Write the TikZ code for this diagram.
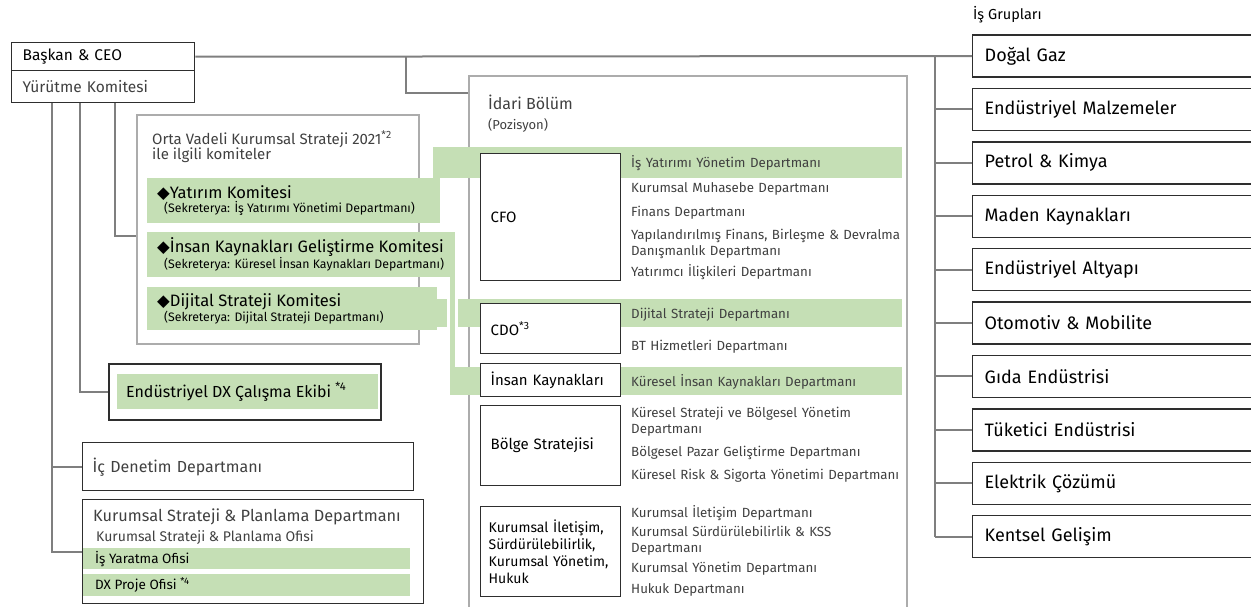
\documentclass[tikz,border=0pt]{standalone}
\usepackage{fontspec}
\setmainfont{Fira Sans}
\newfontfamily\symfont{DejaVu Sans}
\usepackage{xcolor}
\usepackage{tikz}
\usetikzlibrary{positioning,calc}
\definecolor{vert}{HTML}{C5DFB5}
\definecolor{trait}{HTML}{7F7F7F}
\definecolor{cadre}{HTML}{2E2E2E}
\definecolor{texte}{HTML}{404040}
\newcommand{\taille}[2]{\fontsize{#1}{#2}\selectfont}
\newcommand{\losange}{{\symfont ◆}}
\tikzset{
	link/.style={draw=trait,line width=2pt},
	boite/.style={draw=cadre,line width=1.4pt,anchor=north west,align=left,inner xsep=8pt,inner ysep=0pt},
	gris/.style={draw=gray!65,line width=1.6pt,anchor=north west,inner sep=0pt},
	bande/.style={fill=vert,anchor=north west,inner sep=0pt},
	txt/.style={inner sep=0pt,align=left},
	dep/.style={anchor=west,inner sep=0pt,text=texte,align=left,text width=275pt,font=\taille{13.3}{16}},
	poste/.style={boite,fill=white,minimum width=140pt,text width=120pt,inner xsep=10pt,font=\taille{15}{17}},
	grp/.style={boite,anchor=west,minimum width=310pt,minimum height=42pt,text width=286pt,inner xsep=12pt,font=\taille{18}{20}}
}

\begin{document}
\begin{tikzpicture}[x=1pt,y=-1pt]
	\useasboundingbox (0,0) rectangle (1251,606);
	\clip (0,0) rectangle (1251,606);
	
	%Cadres gris
	\node[gris,minimum width=438pt,minimum height=560pt] (admin) at (468,75) {};
	\node[gris,minimum width=282pt,minimum height=229pt] (comite) at (136,114) {};
	\node[txt,anchor=west,text=texte,font=\taille{16}{18}] (idari) at (488,102) {İdari Bölüm};
	\node[txt,anchor=west,text=texte,font=\taille{13}{15}] (poz) at (488,125) {(Pozisyon)};
	\node[txt,anchor=north west,text=texte,font=\taille{15}{15.5}] (comtitre) at (152,131) {Orta Vadeli Kurumsal Strateji 2021\textsuperscript{*2}\\ile ilgili komiteler};
	
	%Bandes vertes
	\node[bande,minimum width=469pt,minimum height=31pt] (bisy) at (433,147) {};
	\node[bande,minimum width=465pt,minimum height=28pt] (bdij) at (437,299) {};
	\node[bande,minimum width=452pt,minimum height=28pt] (bik) at (450,367) {};
	
	%Comites
	\node[bande,minimum width=293pt,minimum height=45pt] (yat) at (147,178) {};
	\node[bande,minimum width=308pt,minimum height=45pt] (ikk) at (147,232) {};
	\node[bande,minimum width=290pt,minimum height=43pt] (dij) at (147,287) {};
	\node[txt,right=10pt of yat.west,font=\taille{16.5}{14.5}] (yattxt) {\losange Yatırım Komitesi\\\hspace*{7pt}{\taille{12.3}{13}(Sekreterya: İş Yatırımı Yönetimi Departmanı)}};
	\node[txt,right=10pt of ikk.west,font=\taille{16.5}{14.5}] (ikktxt) {\losange İnsan Kaynakları Geliştirme Komitesi\\\hspace*{7pt}{\taille{12.3}{13}(Sekreterya: Küresel İnsan Kaynakları Departmanı)}};
	\node[txt,right=10pt of dij.west,font=\taille{16.5}{14.5}] (dijtxt) {\losange Dijital Strateji Komitesi\\\hspace*{7pt}{\taille{12.3}{13}(Sekreterya: Dijital Strateji Departmanı)}};
	
	\fill[white] (447,299) rectangle (458,327);
	\fill[vert] (ikk.south east) rectangle (bik.north west);
	
	%Postes
	\node[poste,minimum height=127pt] (cfo) at (480,153) {CFO};
	\node[poste,minimum height=50pt] (cdo) at (480,303) {CDO\textsuperscript{*3}};
	\node[poste,minimum height=33pt] (ik) at (480,363) {İnsan Kaynakları};
	\node[poste,minimum height=80pt] (bolge) at (480,405) {Bölge Stratejisi};
	\node[poste,minimum height=90pt,text width=124pt,inner xsep=8pt,font=\taille{14}{17}] (kur) at (480,506) {Kurumsal İletişim,\\Sürdürülebilirlik,\\Kurumsal Yönetim,\\Hukuk};
	
	%Departmanlar
	\foreach \y/\t [count=\i] in {163/İş Yatırımı Yönetim Departmanı,189/Kurumsal Muhasebe Departmanı,213/Finans Departmanı,244/{Yapılandırılmış Finans, Birleşme \& Devralma\\Danışmanlık Departmanı},272/Yatırımcı İlişkileri Departmanı,315/Dijital Strateji Departmanı,347/BT Hizmetleri Departmanı,382/Küresel İnsan Kaynakları Departmanı,422/{Küresel Strateji ve Bölgesel Yönetim\\Departmanı},453/Bölgesel Pazar Geliştirme Departmanı,476/Küresel Risk \& Sigorta Yönetimi Departmanı,513/Kurumsal İletişim Departmanı,541/{Kurumsal Sürdürülebilirlik \& KSS\\Departmanı},569/Kurumsal Yönetim Departmanı,590/Hukuk Departmanı}
		\node[dep] (dep\i) at (631,\y) {\t};
	
	%Baskan et comite executif
	\node[boite,minimum width=183pt,minimum height=28pt,text width=161pt,inner xsep=11pt,font=\taille{15.5}{17}] (ceo) at (11,42) {Başkan \& CEO};
	\node[boite,minimum width=183pt,minimum height=32pt,text width=161pt,inner xsep=11pt,text=texte,font=\taille{15.5}{17}] (yk) at (11,70) {Yürütme Komitesi};
	
	%Boites de gauche
	\node[boite,line width=2pt,minimum width=272pt,minimum height=56pt] (dxbox) at (108,363) {};
	\node[bande,minimum width=261pt,minimum height=35pt] (dx) at (117,374) {};
	\node[txt,right=9pt of dx.west,font=\taille{16}{18}] (dxtxt) {Endüstriyel DX Çalışma Ekibi \textsuperscript{*4}};
	\node[boite,minimum width=331pt,minimum height=48pt,text width=311pt,inner xsep=10pt,text=texte,font=\taille{16}{18}] (audit) at (82,442) {İç Denetim Departmanı};
	\node[boite,minimum width=341pt,minimum height=104pt] (ksp) at (82,499) {};
	\node[txt,anchor=west,text=texte,font=\taille{16.3}{18}] (ksptitre) at (93,517) {Kurumsal Strateji \& Planlama Departmanı};
	\node[txt,anchor=west,text=texte,font=\taille{14}{15}] (kspofis) at (96,538) {Kurumsal Strateji \& Planlama Ofisi};
	\node[bande,minimum width=327pt,minimum height=21pt] (isy) at (83,548) {};
	\node[bande,minimum width=327pt,minimum height=22pt] (dxp) at (83,574) {};
	\node[txt,right=12pt of isy.west,font=\taille{13.5}{15}] (isytxt) {İş Yaratma Ofisi};
	\node[txt,right=12pt of dxp.west,font=\taille{13.5}{15}] (dxptxt) {DX Proje Ofisi \textsuperscript{*4}};
	
	%Is gruplari
	\node[txt,anchor=west,font=\taille{14.5}{16}] (titre) at (973,15) {İş Grupları};
	\foreach \g [count=\i from 0] in {Doğal Gaz,Endüstriyel Malzemeler,Petrol \& Kimya,Maden Kaynakları,Endüstriyel Altyapı,Otomotiv \& Mobilite,Gıda Endüstrisi,Tüketici Endüstrisi,Elektrik Çözümü,Kentsel Gelişim}
		\node[grp] (g\i) at (972,56+53.4*\i) {\g};
	
	%Liens
	\coordinate (c1) at (52,0);
	\coordinate (c2) at (80,0);
	\coordinate (c3) at (115,0);
	\coordinate (j) at (406,0);
	\coordinate (t) at (935,0);
	\draw[link] (ceo.east) -- (g0.west);
	\draw[link] (ceo.east -| j) |- ([yshift=-18pt]admin.north west);
	\draw[link] (g0.west -| t) -- (g9.west -| t);
	\foreach \i in {1,...,9}
		\draw[link] (g\i.west -| t) -- (g\i.west);
	\draw[link] (yk.south -| c1) |- (ksp.west);
	\draw[link] (audit.west -| c1) -- (audit.west);
	\draw[link] (yk.south -| c2) |- (dxbox.west);
	\draw[link] (yk.south -| c3) |- ([yshift=-7pt]comite.west);
	
\end{tikzpicture}
\end{document}
